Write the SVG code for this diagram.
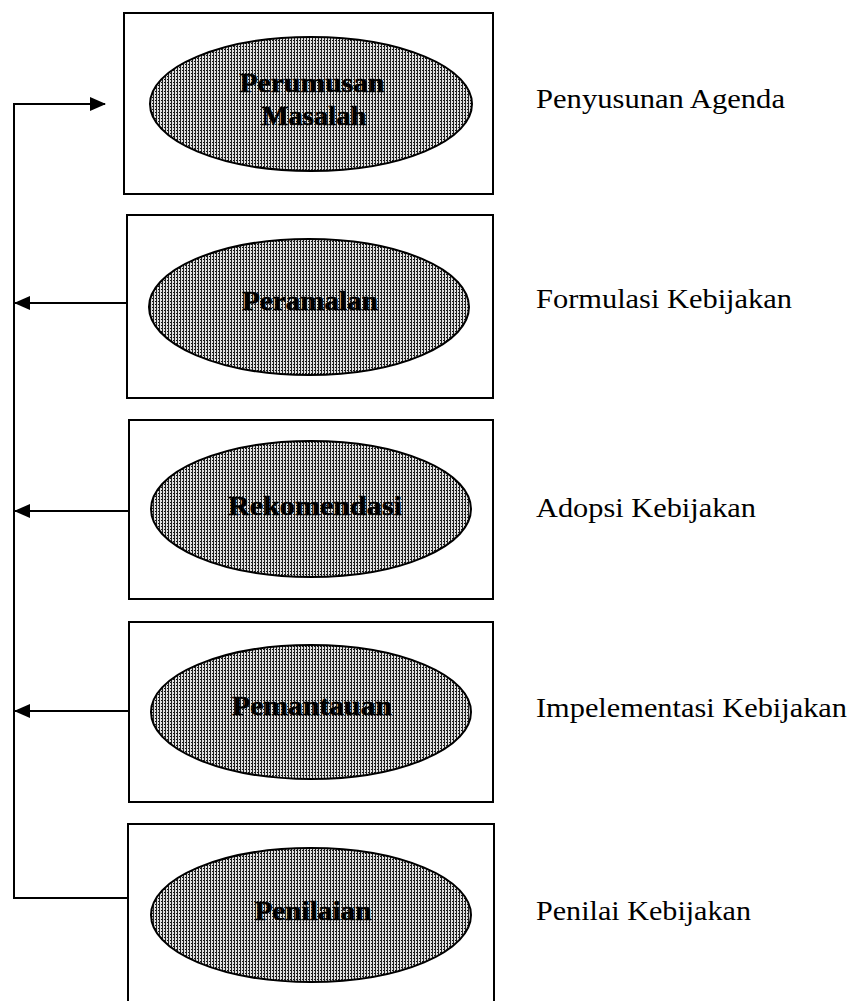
<svg xmlns="http://www.w3.org/2000/svg" width="851" height="1001" viewBox="0 0 851 1001">
<style>
.box{fill:#fff;stroke:#000;stroke-width:2}
.ell{fill:url(#dots);stroke:#000;stroke-width:2}
.in{font-weight:bold;font-size:28px;fill:#000;stroke:#000;stroke-width:0.5;text-anchor:middle}
.lab{font-size:27px;fill:#000}
.con{fill:none;stroke:#000;stroke-width:2}
</style>
<defs>
<pattern id="dots" width="3" height="3" patternUnits="userSpaceOnUse">
<rect width="3" height="3" fill="#e0e0e0"/>
<rect x="0" y="0" width="1" height="3" fill="#222"/>
<rect x="2" y="1" width="1" height="1" fill="#111"/>
</pattern>
<marker id="ah" markerWidth="16" markerHeight="14" refX="15" refY="7" orient="auto" markerUnits="userSpaceOnUse">
<path d="M0,0 L16,7 L0,14 Z" fill="#000"/>
</marker>
</defs>
<rect width="851" height="1001" fill="#fff"/>
<g id="connectors">
<path class="con" d="M14,898 L14,104 L105,104" marker-end="url(#ah)"/>
<path class="con" d="M127,303 L15,303" marker-end="url(#ah)"/>
<path class="con" d="M129,511 L15,511" marker-end="url(#ah)"/>
<path class="con" d="M129,711 L15,711" marker-end="url(#ah)"/>
<path class="con" d="M13,898 L128,898"/>
</g>
<g id="node1">
<rect class="box" x="124" y="13" width="369" height="181"/>
<ellipse class="ell" cx="311" cy="104" rx="161" ry="67"/>
<text class="in" font-family="Liberation Serif, serif" x="312" y="92" textLength="145" lengthAdjust="spacingAndGlyphs">Perumusan</text>
<text class="in" font-family="Liberation Serif, serif" x="314" y="125" textLength="105" lengthAdjust="spacingAndGlyphs">Masalah</text>
</g>
<g id="node2">
<rect class="box" x="127" y="215" width="366" height="183"/>
<ellipse class="ell" cx="309" cy="307" rx="160" ry="68"/>
<text class="in" font-family="Liberation Serif, serif" x="310" y="310" textLength="136" lengthAdjust="spacingAndGlyphs">Peramalan</text>
</g>
<g id="node3">
<rect class="box" x="129" y="420" width="364" height="179"/>
<ellipse class="ell" cx="311" cy="509" rx="160" ry="68"/>
<text class="in" font-family="Liberation Serif, serif" x="315" y="515" textLength="174" lengthAdjust="spacingAndGlyphs">Rekomendasi</text>
</g>
<g id="node4">
<rect class="box" x="129" y="622" width="364" height="180"/>
<ellipse class="ell" cx="311" cy="712" rx="160" ry="67"/>
<text class="in" font-family="Liberation Serif, serif" x="312" y="715" textLength="160" lengthAdjust="spacingAndGlyphs">Pemantauan</text>
</g>
<g id="node5">
<rect class="box" x="128" y="824" width="366" height="200"/>
<ellipse class="ell" cx="311" cy="915" rx="160" ry="67"/>
<text class="in" font-family="Liberation Serif, serif" x="313" y="920" textLength="117" lengthAdjust="spacingAndGlyphs">Penilaian</text>
</g>
<g id="labels">
<text class="lab" font-family="Liberation Serif, serif" x="536" y="108" textLength="249" lengthAdjust="spacingAndGlyphs">Penyusunan Agenda</text>
<text class="lab" font-family="Liberation Serif, serif" x="536" y="308" textLength="256" lengthAdjust="spacingAndGlyphs">Formulasi Kebijakan</text>
<text class="lab" font-family="Liberation Serif, serif" x="536" y="517" textLength="220" lengthAdjust="spacingAndGlyphs">Adopsi Kebijakan</text>
<text class="lab" font-family="Liberation Serif, serif" x="536" y="717" textLength="311" lengthAdjust="spacingAndGlyphs">Impelementasi Kebijakan</text>
<text class="lab" font-family="Liberation Serif, serif" x="536" y="920" textLength="215" lengthAdjust="spacingAndGlyphs">Penilai Kebijakan</text>
</g>
</svg>
